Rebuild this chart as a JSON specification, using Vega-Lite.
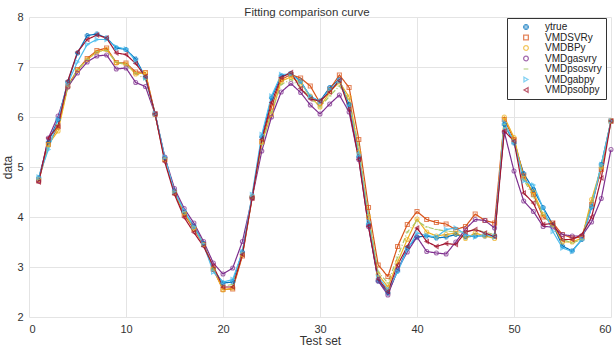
{
  "$schema": "https://vega.github.io/schema/vega-lite/v6.json",
  "width": 582,
  "height": 300,
  "autosize": "none",
  "padding": {"left": 29, "top": 17, "right": 5, "bottom": 33},
  "background": "white",
  "title": {"text": "Fitting comparison curve", "fontSize": 11.5, "fontWeight": "normal", "font": "Liberation Sans", "color": "#333", "offset": -7, "dx": -13},
  "config": {"view": {"stroke": null}, "font": "Liberation Sans"},
  "data": {"values": [
    {"x":1,"ytrue":4.78,"VMDSVRy":4.72,"VMDBPy":4.75,"VMDgasvry":4.72,"VMDpsosvry":4.75,"VMDgabpy":4.8,"VMDpsobpy":4.7},
    {"x":2,"ytrue":5.5,"VMDSVRy":5.45,"VMDBPy":5.45,"VMDgasvry":5.58,"VMDpsosvry":5.4,"VMDgabpy":5.35,"VMDpsobpy":5.58},
    {"x":3,"ytrue":5.95,"VMDSVRy":5.8,"VMDBPy":5.72,"VMDgasvry":6.02,"VMDpsosvry":5.85,"VMDgabpy":5.95,"VMDpsobpy":5.82},
    {"x":4,"ytrue":6.7,"VMDSVRy":6.62,"VMDBPy":6.6,"VMDgasvry":6.6,"VMDpsosvry":6.62,"VMDgabpy":6.68,"VMDpsobpy":6.72},
    {"x":5,"ytrue":7.28,"VMDSVRy":6.95,"VMDBPy":6.93,"VMDgasvry":6.88,"VMDpsosvry":6.95,"VMDgabpy":7.1,"VMDpsobpy":7.3},
    {"x":6,"ytrue":7.63,"VMDSVRy":7.17,"VMDBPy":7.15,"VMDgasvry":7.1,"VMDpsosvry":7.15,"VMDgabpy":7.45,"VMDpsobpy":7.55},
    {"x":7,"ytrue":7.66,"VMDSVRy":7.33,"VMDBPy":7.3,"VMDgasvry":7.22,"VMDpsosvry":7.3,"VMDgabpy":7.55,"VMDpsobpy":7.64},
    {"x":8,"ytrue":7.58,"VMDSVRy":7.38,"VMDBPy":7.35,"VMDgasvry":7.24,"VMDpsosvry":7.33,"VMDgabpy":7.55,"VMDpsobpy":7.58},
    {"x":9,"ytrue":7.38,"VMDSVRy":7.09,"VMDBPy":7.08,"VMDgasvry":6.96,"VMDpsosvry":7.1,"VMDgabpy":7.4,"VMDpsobpy":7.28},
    {"x":10,"ytrue":7.35,"VMDSVRy":7.08,"VMDBPy":7.06,"VMDgasvry":6.98,"VMDpsosvry":7.05,"VMDgabpy":7.36,"VMDpsobpy":7.25},
    {"x":11,"ytrue":7.16,"VMDSVRy":6.9,"VMDBPy":6.86,"VMDgasvry":6.69,"VMDpsosvry":6.88,"VMDgabpy":7.12,"VMDpsobpy":7.07},
    {"x":12,"ytrue":6.8,"VMDSVRy":6.89,"VMDBPy":6.88,"VMDgasvry":6.61,"VMDpsosvry":6.75,"VMDgabpy":6.78,"VMDpsobpy":6.81},
    {"x":13,"ytrue":6.06,"VMDSVRy":6.06,"VMDBPy":6.05,"VMDgasvry":6.06,"VMDpsosvry":6.05,"VMDgabpy":6.07,"VMDpsobpy":6.06},
    {"x":14,"ytrue":5.18,"VMDSVRy":5.15,"VMDBPy":5.15,"VMDgasvry":5.2,"VMDpsosvry":5.17,"VMDgabpy":5.2,"VMDpsobpy":5.1},
    {"x":15,"ytrue":4.52,"VMDSVRy":4.48,"VMDBPy":4.5,"VMDgasvry":4.57,"VMDpsosvry":4.5,"VMDgabpy":4.5,"VMDpsobpy":4.45},
    {"x":16,"ytrue":4.1,"VMDSVRy":4.05,"VMDBPy":4.08,"VMDgasvry":4.17,"VMDpsosvry":4.1,"VMDgabpy":4.13,"VMDpsobpy":3.99},
    {"x":17,"ytrue":3.82,"VMDSVRy":3.75,"VMDBPy":3.78,"VMDgasvry":3.88,"VMDpsosvry":3.8,"VMDgabpy":3.8,"VMDpsobpy":3.69},
    {"x":18,"ytrue":3.47,"VMDSVRy":3.45,"VMDBPy":3.45,"VMDgasvry":3.51,"VMDpsosvry":3.47,"VMDgabpy":3.45,"VMDpsobpy":3.41},
    {"x":19,"ytrue":2.95,"VMDSVRy":2.95,"VMDBPy":2.97,"VMDgasvry":3.08,"VMDpsosvry":2.98,"VMDgabpy":2.9,"VMDpsobpy":3.02},
    {"x":20,"ytrue":2.68,"VMDSVRy":2.55,"VMDBPy":2.54,"VMDgasvry":2.86,"VMDpsosvry":2.62,"VMDgabpy":2.7,"VMDpsobpy":2.6},
    {"x":21,"ytrue":2.7,"VMDSVRy":2.56,"VMDBPy":2.58,"VMDgasvry":2.98,"VMDpsosvry":2.65,"VMDgabpy":2.75,"VMDpsobpy":2.6},
    {"x":22,"ytrue":3.3,"VMDSVRy":3.22,"VMDBPy":3.25,"VMDgasvry":3.51,"VMDpsosvry":3.28,"VMDgabpy":3.3,"VMDpsobpy":3.25},
    {"x":23,"ytrue":4.4,"VMDSVRy":4.38,"VMDBPy":4.4,"VMDgasvry":4.38,"VMDpsosvry":4.4,"VMDgabpy":4.45,"VMDpsobpy":4.38},
    {"x":24,"ytrue":5.6,"VMDSVRy":5.5,"VMDBPy":5.5,"VMDgasvry":5.32,"VMDpsosvry":5.45,"VMDgabpy":5.65,"VMDpsobpy":5.55},
    {"x":25,"ytrue":6.38,"VMDSVRy":6.2,"VMDBPy":6.05,"VMDgasvry":6.0,"VMDpsosvry":6.1,"VMDgabpy":6.42,"VMDpsobpy":6.29},
    {"x":26,"ytrue":6.82,"VMDSVRy":6.75,"VMDBPy":6.72,"VMDgasvry":6.5,"VMDpsosvry":6.65,"VMDgabpy":6.85,"VMDpsobpy":6.79},
    {"x":27,"ytrue":6.87,"VMDSVRy":6.85,"VMDBPy":6.8,"VMDgasvry":6.67,"VMDpsosvry":6.75,"VMDgabpy":6.86,"VMDpsobpy":6.89},
    {"x":28,"ytrue":6.72,"VMDSVRy":6.78,"VMDBPy":6.68,"VMDgasvry":6.49,"VMDpsosvry":6.6,"VMDgabpy":6.7,"VMDpsobpy":6.57},
    {"x":29,"ytrue":6.4,"VMDSVRy":6.62,"VMDBPy":6.42,"VMDgasvry":6.24,"VMDpsosvry":6.38,"VMDgabpy":6.42,"VMDpsobpy":6.36},
    {"x":30,"ytrue":6.32,"VMDSVRy":6.28,"VMDBPy":6.2,"VMDgasvry":6.06,"VMDpsosvry":6.2,"VMDgabpy":6.3,"VMDpsobpy":6.32},
    {"x":31,"ytrue":6.59,"VMDSVRy":6.55,"VMDBPy":6.5,"VMDgasvry":6.26,"VMDpsosvry":6.42,"VMDgabpy":6.55,"VMDpsobpy":6.5},
    {"x":32,"ytrue":6.75,"VMDSVRy":6.84,"VMDBPy":6.7,"VMDgasvry":6.44,"VMDpsosvry":6.62,"VMDgabpy":6.72,"VMDpsobpy":6.73},
    {"x":33,"ytrue":6.25,"VMDSVRy":6.59,"VMDBPy":6.4,"VMDgasvry":6.1,"VMDpsosvry":6.35,"VMDgabpy":6.2,"VMDpsobpy":6.16},
    {"x":34,"ytrue":5.2,"VMDSVRy":5.55,"VMDBPy":5.3,"VMDgasvry":5.15,"VMDpsosvry":5.4,"VMDgabpy":5.25,"VMDpsobpy":5.15},
    {"x":35,"ytrue":3.85,"VMDSVRy":4.19,"VMDBPy":4.0,"VMDgasvry":3.81,"VMDpsosvry":4.05,"VMDgabpy":3.9,"VMDpsobpy":3.81},
    {"x":36,"ytrue":2.72,"VMDSVRy":3.04,"VMDBPy":2.85,"VMDgasvry":2.72,"VMDpsosvry":2.9,"VMDgabpy":2.8,"VMDpsobpy":2.76},
    {"x":37,"ytrue":2.48,"VMDSVRy":2.81,"VMDBPy":2.6,"VMDgasvry":2.44,"VMDpsosvry":2.68,"VMDgabpy":2.55,"VMDpsobpy":2.51},
    {"x":38,"ytrue":2.92,"VMDSVRy":3.41,"VMDBPy":3.1,"VMDgasvry":2.95,"VMDpsosvry":3.2,"VMDgabpy":2.9,"VMDpsobpy":3.04},
    {"x":39,"ytrue":3.38,"VMDSVRy":3.85,"VMDBPy":3.55,"VMDgasvry":3.3,"VMDpsosvry":3.7,"VMDgabpy":3.35,"VMDpsobpy":3.41},
    {"x":40,"ytrue":3.6,"VMDSVRy":4.11,"VMDBPy":3.96,"VMDgasvry":3.6,"VMDpsosvry":3.92,"VMDgabpy":3.68,"VMDpsobpy":3.78},
    {"x":41,"ytrue":3.62,"VMDSVRy":3.95,"VMDBPy":3.7,"VMDgasvry":3.31,"VMDpsosvry":3.8,"VMDgabpy":3.63,"VMDpsobpy":3.51},
    {"x":42,"ytrue":3.58,"VMDSVRy":3.89,"VMDBPy":3.62,"VMDgasvry":3.28,"VMDpsosvry":3.75,"VMDgabpy":3.6,"VMDpsobpy":3.41},
    {"x":43,"ytrue":3.6,"VMDSVRy":3.86,"VMDBPy":3.65,"VMDgasvry":3.26,"VMDpsosvry":3.72,"VMDgabpy":3.75,"VMDpsobpy":3.47},
    {"x":44,"ytrue":3.65,"VMDSVRy":3.75,"VMDBPy":3.68,"VMDgasvry":3.5,"VMDpsosvry":3.7,"VMDgabpy":3.78,"VMDpsobpy":3.45},
    {"x":45,"ytrue":3.6,"VMDSVRy":3.81,"VMDBPy":3.57,"VMDgasvry":3.76,"VMDpsosvry":3.7,"VMDgabpy":3.65,"VMDpsobpy":3.7},
    {"x":46,"ytrue":3.62,"VMDSVRy":4.06,"VMDBPy":3.68,"VMDgasvry":3.95,"VMDpsosvry":3.75,"VMDgabpy":3.6,"VMDpsobpy":3.75},
    {"x":47,"ytrue":3.62,"VMDSVRy":3.93,"VMDBPy":3.62,"VMDgasvry":3.93,"VMDpsosvry":3.7,"VMDgabpy":3.65,"VMDpsobpy":3.68},
    {"x":48,"ytrue":3.62,"VMDSVRy":3.88,"VMDBPy":3.57,"VMDgasvry":3.78,"VMDpsosvry":3.65,"VMDgabpy":3.6,"VMDpsobpy":3.61},
    {"x":49,"ytrue":5.85,"VMDSVRy":5.95,"VMDBPy":6.0,"VMDgasvry":5.7,"VMDpsosvry":5.85,"VMDgabpy":5.89,"VMDpsobpy":5.72},
    {"x":50,"ytrue":5.48,"VMDSVRy":5.55,"VMDBPy":5.59,"VMDgasvry":4.92,"VMDpsosvry":5.5,"VMDgabpy":5.5,"VMDpsobpy":5.52},
    {"x":51,"ytrue":4.87,"VMDSVRy":4.82,"VMDBPy":4.78,"VMDgasvry":4.32,"VMDpsosvry":4.75,"VMDgabpy":4.72,"VMDpsobpy":4.48},
    {"x":52,"ytrue":4.55,"VMDSVRy":4.45,"VMDBPy":4.5,"VMDgasvry":4.11,"VMDpsosvry":4.4,"VMDgabpy":4.64,"VMDpsobpy":4.28},
    {"x":53,"ytrue":4.19,"VMDSVRy":4.0,"VMDBPy":4.05,"VMDgasvry":3.81,"VMDpsosvry":4.05,"VMDgabpy":4.18,"VMDpsobpy":3.85},
    {"x":54,"ytrue":3.85,"VMDSVRy":3.88,"VMDBPy":3.85,"VMDgasvry":3.8,"VMDpsosvry":3.82,"VMDgabpy":3.71,"VMDpsobpy":3.87},
    {"x":55,"ytrue":3.42,"VMDSVRy":3.65,"VMDBPy":3.5,"VMDgasvry":3.65,"VMDpsosvry":3.55,"VMDgabpy":3.38,"VMDpsobpy":3.55},
    {"x":56,"ytrue":3.32,"VMDSVRy":3.58,"VMDBPy":3.5,"VMDgasvry":3.62,"VMDpsosvry":3.48,"VMDgabpy":3.31,"VMDpsobpy":3.55},
    {"x":57,"ytrue":3.55,"VMDSVRy":3.6,"VMDBPy":3.58,"VMDgasvry":3.62,"VMDpsosvry":3.55,"VMDgabpy":3.55,"VMDpsobpy":3.65},
    {"x":58,"ytrue":4.2,"VMDSVRy":4.25,"VMDBPy":4.35,"VMDgasvry":3.9,"VMDpsosvry":4.3,"VMDgabpy":4.2,"VMDpsobpy":4.0},
    {"x":59,"ytrue":5.05,"VMDSVRy":4.95,"VMDBPy":5.0,"VMDgasvry":4.37,"VMDpsosvry":5.0,"VMDgabpy":5.05,"VMDpsobpy":4.78},
    {"x":60,"ytrue":5.92,"VMDSVRy":5.92,"VMDBPy":5.92,"VMDgasvry":5.35,"VMDpsosvry":5.9,"VMDgabpy":5.92,"VMDpsobpy":5.92}
  ]},
  "transform": [
    {"fold": ["ytrue","VMDSVRy","VMDBPy","VMDgasvry","VMDpsosvry","VMDgabpy","VMDpsobpy"], "as": ["series","value"]}
  ],
  "encoding": {
    "x": {"field": "x", "type": "quantitative", "scale": {"domain": [0, 60], "nice": false},
      "axis": {"title": "Test set", "values": [0,10,20,30,40,50,60], "grid": true, "gridColor": "#e4e4e4", "domain": false, "tickSize": 0, "labelPadding": 6, "labelFontSize": 11, "labelColor": "#333", "titleFontSize": 12, "titleFontWeight": "normal", "titleColor": "#333", "titlePadding": 1}},
    "y": {"field": "value", "type": "quantitative", "scale": {"domain": [2, 8], "nice": false},
      "axis": {"title": "data", "values": [2,3,4,5,6,7,8], "grid": true, "gridColor": "#e4e4e4", "domain": false, "tickSize": 0, "labelPadding": 6, "labelFontSize": 11, "labelColor": "#333", "titleFontSize": 12, "titleFontWeight": "normal", "titleColor": "#333", "titlePadding": 2}},
    "color": {"field": "series", "type": "nominal",
      "scale": {"domain": ["ytrue","VMDSVRy","VMDBPy","VMDgasvry","VMDpsosvry","VMDgabpy","VMDpsobpy"],
                "range": ["#0072BD","#D95319","#EDB120","#7E2F8E","#A8C86A","#4DBEEE","#A2142F"]},
      "sort": ["ytrue","VMDSVRy","VMDBPy","VMDgasvry","VMDpsosvry","VMDgabpy","VMDpsobpy"],
      "legend": {"title": null, "orient": "none", "legendX": 478, "legendY": 1, "fillColor": "white", "strokeColor": "#333", "padding": 4, "labelFontSize": 10, "labelColor": "#222", "symbolSize": 22, "rowPadding": 0.5, "labelOffset": 14, "symbolOffset": 10, "symbolStrokeWidth": 1.3}}
  },
  "layer": [
    {
      "mark": {"type": "line", "strokeWidth": 1.2},
      "encoding": {
        "strokeDash": {"field": "series", "type": "nominal", "legend": null,
          "scale": {"domain": ["ytrue","VMDSVRy","VMDBPy","VMDgasvry","VMDpsosvry","VMDgabpy","VMDpsobpy"],
                    "range": [[1,0],[1,0],[1,0],[1,0],[5,2,1,2],[1,0],[1,0]]}}
      }
    },
    {
      "mark": {"type": "point", "filled": false, "size": 16, "strokeWidth": 1.1},
      "encoding": {
        "shape": {"field": "series", "type": "nominal",
          "scale": {"domain": ["ytrue","VMDSVRy","VMDBPy","VMDgasvry","VMDpsosvry","VMDgabpy","VMDpsobpy"],
                    "range": ["cross","square","circle","circle","stroke","triangle-right","triangle-left"]},
          "legend": {"title": null, "orient": "none", "legendX": 478, "legendY": 1, "fillColor": "white", "strokeColor": "#333", "padding": 4, "labelFontSize": 10, "labelColor": "#222", "symbolSize": 22, "rowPadding": 0.5, "labelOffset": 14, "symbolOffset": 10, "symbolStrokeWidth": 1.3}}
      }
    }
  ]
}
